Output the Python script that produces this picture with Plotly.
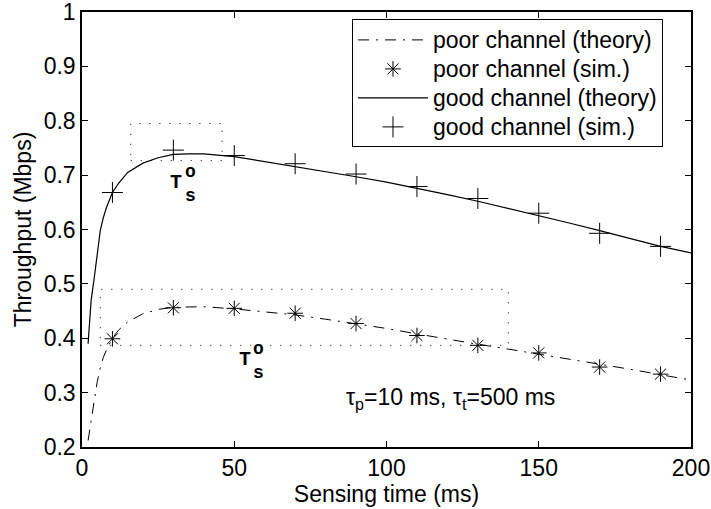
import plotly.graph_objects as go

# Sensing time (ms) for the theoretical curves
theory_t = [2, 3, 4, 5, 6, 7, 8, 10, 12, 15, 20, 25, 30, 35, 40, 50, 60, 70, 80, 90,
            100, 110, 120, 130, 140, 150, 160, 170, 180, 190, 200]
# Throughput (Mbps), theory
poor_theory = [0.212, 0.25, 0.285, 0.32, 0.345, 0.365, 0.378, 0.40, 0.415, 0.43, 0.445,
               0.453, 0.457, 0.458, 0.458, 0.454, 0.449, 0.443, 0.435, 0.427,
               0.418, 0.408, 0.398, 0.389, 0.380, 0.371, 0.362, 0.352, 0.343, 0.333, 0.323]
good_theory = [0.39, 0.47, 0.51, 0.56, 0.598, 0.622, 0.64, 0.668, 0.685, 0.705, 0.722,
               0.732, 0.738, 0.739, 0.739, 0.734, 0.725, 0.716, 0.707, 0.697,
               0.687, 0.676, 0.664, 0.652, 0.639, 0.626, 0.612, 0.598, 0.584, 0.569, 0.557]

# Simulation points
sim_t = [10, 30, 50, 70, 90, 110, 130, 150, 170, 190]
poor_sim = [0.399, 0.456, 0.455, 0.446, 0.427, 0.405, 0.387, 0.373, 0.347, 0.334]
good_sim = [0.668, 0.746, 0.736, 0.721, 0.702, 0.679, 0.657, 0.630, 0.593, 0.569]

series_names = ["poor channel (theory)", "poor channel (sim.)",
                "good channel (theory)", "good channel (sim.)"]

# Regions around the optimal sensing time (x0, x1, y0, y1)
good_box = (16, 46, 0.727, 0.795)
poor_box = (6, 140, 0.387, 0.490)

FS = 23          # base font size
LEGEND_ROW = 20  # font size that sets the legend row spacing


def legend_label(name):
    # legend rows are spaced by LEGEND_ROW while the label itself renders at FS
    return f'<span style="font-size:{FS}px">{name}</span>'


fig = go.Figure()
fig.add_trace(go.Scatter(x=theory_t, y=poor_theory, mode="lines",
                         name=legend_label(series_names[0]),
                         line=dict(color="black", width=1, dash="11px,7px,2px,7px")))
fig.add_trace(go.Scatter(x=sim_t, y=poor_sim, mode="markers",
                         name=legend_label(series_names[1]),
                         marker=dict(symbol="asterisk", size=13, color="black",
                                     line=dict(color="black", width=1))))
fig.add_trace(go.Scatter(x=theory_t, y=good_theory, mode="lines",
                         name=legend_label(series_names[2]),
                         line=dict(color="black", width=1.2)))
fig.add_trace(go.Scatter(x=sim_t, y=good_sim, mode="markers",
                         name=legend_label(series_names[3]),
                         marker=dict(symbol="cross-thin", size=15, color="black",
                                     line=dict(color="black", width=1))))

for x0, x1, y0, y1 in (good_box, poor_box):
    fig.add_shape(type="rect", xref="x", yref="y", x0=x0, x1=x1, y0=y0, y1=y1,
                  line=dict(color="black", width=1, dash="1px,9px"))

mono = "Liberation Mono, Courier New, monospace"
for tx, ty in ((31, 0.687), (53.5, 0.361)):
    fig.add_annotation(x=tx, y=ty, xref="x", yref="y", text="<b>T</b>",
                       showarrow=False, font=dict(family=mono, size=20, color="black"))
    fig.add_annotation(x=tx, y=ty, xref="x", yref="y", text="<b>s</b>",
                       showarrow=False, xshift=14, yshift=-14,
                       font=dict(family=mono, size=18, color="black"))
    fig.add_annotation(x=tx, y=ty, xref="x", yref="y", text="<b>o</b>",
                       showarrow=False, xshift=14, yshift=10,
                       font=dict(family=mono, size=18, color="black"))

fig.add_annotation(x=121, y=0.29, xref="x", yref="y",
                   text="τ<sub>p</sub>=10 ms, τ<sub>t</sub>=500 ms",
                   showarrow=False, font=dict(size=FS, color="black"))

axis_common = dict(showgrid=False, zeroline=False, showline=True, linecolor="black",
                   linewidth=1.5, mirror="ticks", ticks="inside", ticklen=6,
                   tickcolor="black", tickwidth=1, tickfont=dict(size=FS, color="black"),
                   automargin=False, ticklabeloverflow="allow")

fig.update_layout(
    width=711, height=509,
    margin=dict(l=82, r=20, t=12, b=62),
    paper_bgcolor="white", plot_bgcolor="white",
    font=dict(family="Liberation Sans, Arial, sans-serif", color="black"),
    xaxis=dict(range=[0, 200], tickvals=[0, 50, 100, 150, 200],
               title=dict(text="Sensing time (ms)", font=dict(size=FS), standoff=2),
               **axis_common),
    yaxis=dict(range=[0.2, 1.0], tickvals=[0.2, 0.3, 0.4, 0.5, 0.6, 0.7, 0.8, 0.9, 1.0],
               ticktext=["0.2", "0.3", "0.4", "0.5", "0.6", "0.7", "0.8", "0.9", "1"],
               title=dict(text="Throughput (Mbps)", font=dict(size=FS), standoff=6),
               **axis_common),
    legend=dict(x=0.954, y=0.983, xanchor="right", yanchor="top",
                bgcolor="white", bordercolor="black", borderwidth=1,
                font=dict(size=LEGEND_ROW, color="black"), itemwidth=70,
                tracegroupgap=0),
    showlegend=True,
)

fig.write_html("out.html")
